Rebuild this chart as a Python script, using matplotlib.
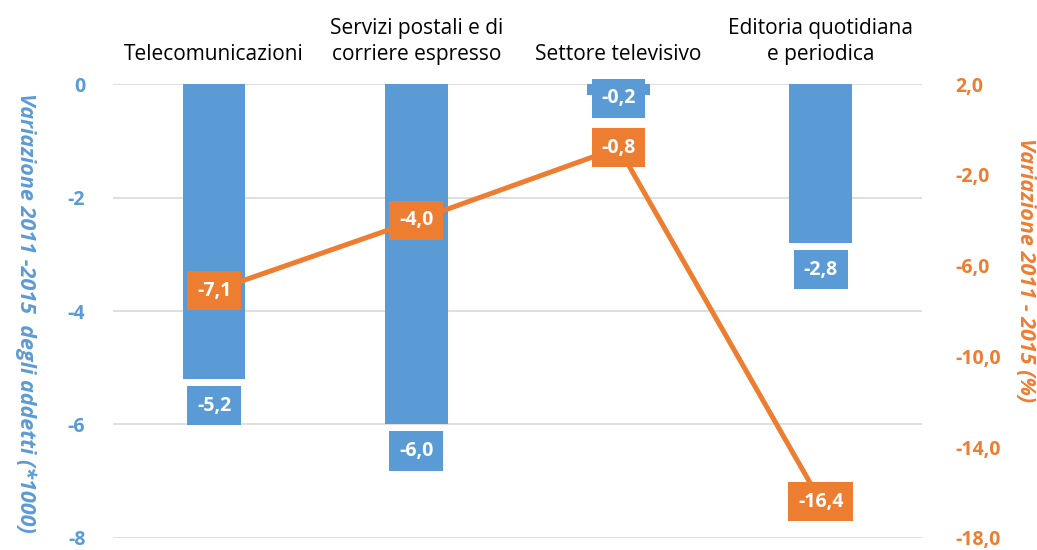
import matplotlib.pyplot as plt
from matplotlib.ticker import FixedLocator

plt.rcParams['font.family'] = ['Open Sans', 'DejaVu Sans']

categories = ['Telecomunicazioni', 'Servizi postali e di\ncorriere espresso',
              'Settore televisivo', 'Editoria quotidiana\ne periodica']
addetti = [-5.2, -6.0, -0.2, -2.8]      # bars, left axis (*1000)
variazione_pct = [-7.1, -4.0, -0.8, -16.4]  # line, right axis (%)

left_ticks = [0, -2, -4, -6, -8]
right_ticks = [2.0, -2.0, -6.0, -10.0, -14.0, -18.0]

blue = '#5B9BD5'
orange = '#ED7D31'


def it(v, fmt):
    return fmt.format(v).replace('.', ',')


fig = plt.figure(figsize=(10.37, 5.5), dpi=100)
ax = fig.add_axes([0.109, 0.022, 0.78, 0.825])
x = list(range(len(categories)))

ax.bar(x, addetti, width=0.31, color=blue, zorder=2)
ax.set_xlim(-0.5, len(categories) - 0.5)
ax.set_ylim(-8, 0)
ax.yaxis.set_major_locator(FixedLocator(left_ticks))
ax.set_yticklabels([str(t) for t in left_ticks])
ax.grid(axis='y', color='#D9D9D9', linewidth=1.2, zorder=0)
ax.set_axisbelow(True)
for s in ax.spines.values():
    s.set_visible(False)

ax.xaxis.tick_top()
ax.set_xticks(x)
ax.set_xticklabels(categories, fontsize=15, color='black', linespacing=1.3)
ax.tick_params(axis='x', length=0, pad=14)
ax.tick_params(axis='y', length=0, pad=20, labelcolor=blue, labelsize=14)
for lbl in ax.get_yticklabels():
    lbl.set_fontweight('bold')

fig.text(26 / 1037, 1 - 313 / 550, 'Variazione 2011 -2015  degli addetti (*1000)',
         color=blue, fontsize=15.5, fontweight='bold', style='italic',
         rotation=270, ha='center', va='center')

# bar value labels
for xi, v in zip(x, addetti):
    y = v - 0.47 if v < -0.5 else v - 0.05
    ax.text(xi, y, it(v, '{:.1f}'), ha='center', va='center', color='white',
            fontsize=14, fontweight='bold', zorder=5,
            bbox=dict(boxstyle='square,pad=0.5', fc=blue, ec='none'))

ax2 = ax.twinx()
ax2.plot(x, variazione_pct, color=orange, linewidth=3.6, zorder=3,
         solid_capstyle='round')
ax2.set_ylim(-18, 2)
ax2.yaxis.set_major_locator(FixedLocator(right_ticks))
ax2.set_yticklabels([it(t, '{:.1f}') for t in right_ticks])
ax2.tick_params(axis='y', length=0, pad=24, labelcolor=orange, labelsize=14)
for lbl in ax2.get_yticklabels():
    lbl.set_fontweight('bold')
for s in ax2.spines.values():
    s.set_visible(False)
fig.text(1026 / 1037, 1 - 270 / 550, 'Variazione 2011 - 2015 (%)', color=orange,
         fontsize=15.5, fontweight='bold', style='italic', rotation=270,
         ha='center', va='center')

for xi, v in zip(x, variazione_pct):
    ax2.text(xi, v, it(v, '{:.1f}'), ha='center', va='center', color='white',
             fontsize=14, fontweight='bold', zorder=6,
             bbox=dict(boxstyle='square,pad=0.5', fc=orange, ec='none'))

fig.savefig('out.png', dpi=100)
